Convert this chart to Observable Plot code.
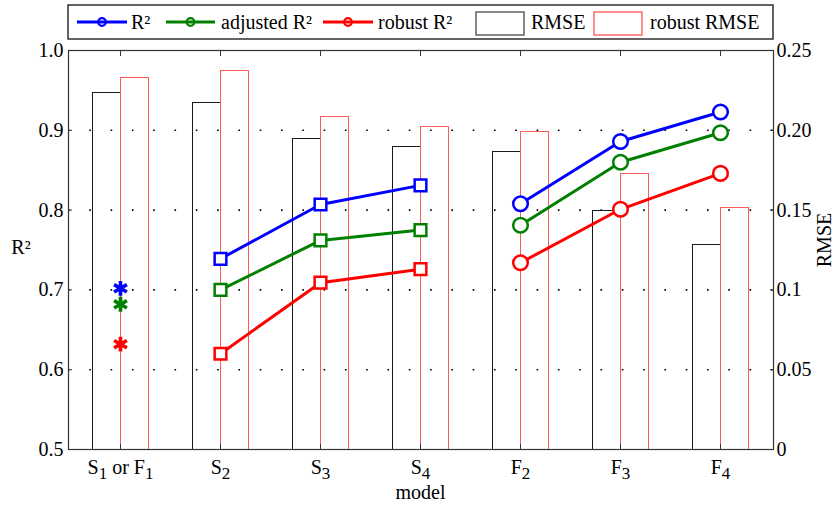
<!DOCTYPE html>
<html><head><meta charset="utf-8">
<script src="https://cdn.jsdelivr.net/npm/d3@7"></script>
<script src="https://cdn.jsdelivr.net/npm/@observablehq/plot@0.6"></script>
<style>body{margin:0;background:#fff}</style>
</head><body><div id="chart"></div>
<script>
// ---- data ----
const categories = ["S_1 or F_1", "S_2", "S_3", "S_4", "F_2", "F_3", "F_4"];
const groups     = ["single", "S", "S", "S", "F", "F", "F"];
const r2         = [0.702, 0.739, 0.807, 0.831, 0.808, 0.886, 0.923];
const adjR2      = [0.682, 0.700, 0.762, 0.775, 0.781, 0.860, 0.897];
const robustR2   = [0.632, 0.620, 0.709, 0.726, 0.734, 0.801, 0.846];
const rmse       = [0.2235, 0.2172, 0.1943, 0.1893, 0.1861, 0.1495, 0.1280];
const robustRmse = [0.2326, 0.2371, 0.2081, 0.2018, 0.1987, 0.1725, 0.1514];
const r2Ticks = [0.5, 0.6, 0.7, 0.8, 0.9, 1.0];
const gridTicks = [0.6, 0.7, 0.8, 0.9];
const rmseTicks = [0, 0.05, 0.1, 0.15, 0.2, 0.25];
const rmseTickLabels = ["0", "0.05", "0.1", "0.15", "0.20", "0.25"];

const FONT = "'Liberation Serif','Times New Roman',Times,serif";
const rows = categories.map((model, i) => ({
  model, group: groups[i], r2: r2[i], adj: adjR2[i], rob: robustR2[i],
  rmse: rmse[i], rrmse: robustRmse[i]
}));
// RMSE axis (0–0.25) is drawn on the same vertical extent as R² (0.5–1)
const toLeft = v => 0.5 + v * 2;
const lined = rows.filter(d => d.group !== "single");
const series = [
  {key: "r2", color: "#0000ff", label: "R²"},
  {key: "adj", color: "#008000", label: "adjusted R²"},
  {key: "rob", color: "#ff0000", label: "robust R²"}
];

const W = 834, H = 505, ML = 68, MR = 61, MT = 50, MB = 56;
const RED_BAR = "#ff5a5a";

const marks = [
  Plot.gridY(gridTicks, {stroke: "#000", strokeOpacity: 1, strokeWidth: 1.6, strokeDasharray: "1.6,19.7"}),
  Plot.barY(rows, {x: "model", y1: 0.5, y2: d => toLeft(d.rmse), fill: "none", stroke: "#1a1a1a", strokeWidth: 1,
    shapeRendering: "crispEdges", insetLeft: 22, insetRight: 50}),
  Plot.barY(rows, {x: "model", y1: 0.5, y2: d => toLeft(d.rrmse), fill: "none", stroke: RED_BAR, strokeWidth: 1,
    shapeRendering: "crispEdges", insetLeft: 50, insetRight: 22}),
  Plot.frame({stroke: "#333", strokeWidth: 1.2})
];
for (const s of series) {
  marks.push(
    Plot.line(lined, {x: "model", y: s.key, z: "group", stroke: s.color, strokeWidth: 3}),
    Plot.dot(rows.filter(d => d.group === "S"), {x: "model", y: s.key, symbol: "square", r: 6.6, stroke: s.color, strokeWidth: 2.5, fill: "white"}),
    Plot.dot(rows.filter(d => d.group === "F"), {x: "model", y: s.key, symbol: "circle", r: 7.3, stroke: s.color, strokeWidth: 2.5, fill: "white"}),
    Plot.dot(rows.filter(d => d.group === "single"), {x: "model", y: s.key, symbol: "asterisk", r: 7, stroke: s.color, strokeWidth: 3.6})
  );
}
marks.push(
  Plot.axisY({anchor: "left", ticks: r2Ticks, tickSize: -4, tickPadding: 9, tickFormat: d3.format(".1f"), label: null, stroke: "#333"}),
  Plot.axisY({anchor: "right", ticks: rmseTicks.map(toLeft), tickSize: -4, tickPadding: 7, label: null, stroke: "#333",
    tickFormat: d => rmseTickLabels[rmseTicks.findIndex(t => Math.abs(toLeft(t) - d) < 1e-9)]}),
  Plot.axisX({anchor: "top", tickSize: -5, tickFormat: () => "", label: null, stroke: "#333"}),
  Plot.axisX({anchor: "bottom", tickSize: -5, tickPadding: 15, label: null, stroke: "#333"})
);

const svgEl = Plot.plot({
  width: W, height: H, marginLeft: ML, marginRight: MR, marginTop: MT, marginBottom: MB,
  style: {fontFamily: FONT, fontSize: "20px", background: "white", color: "#000"},
  x: {type: "band", domain: categories, paddingInner: 0, paddingOuter: 0, range: [69, 770], round: true},
  y: {domain: [0.5, 1]},
  marks
});
document.getElementById("chart").append(svgEl);

const svg = d3.select(svgEl);
// drop the empty labels of the top (tick-only) axis
svg.selectAll("text").filter(function () { return this.textContent === ""; }).remove();
// subscripts in x tick labels
svg.selectAll('g[aria-label="x-axis tick label"] text').each(function () {
  const t = d3.select(this);
  const s = t.text();
  if (!s) return;
  t.text(null);
  const parts = s.split(/_(\d)/);
  let pendingDy = 0;
  parts.forEach((p, i) => {
    if (p === "") return;
    if (i % 2 === 1) {
      t.append("tspan").attr("dy", 5 + pendingDy).attr("font-size", 17).text(p);
      pendingDy = -5;
    } else {
      const ts = t.append("tspan").text(p);
      if (pendingDy) ts.attr("dy", pendingDy);
      pendingDy = 0;
    }
  });
});

const txt = (sel) => sel.attr("font-family", FONT).attr("font-size", 20).attr("fill", "#000");
// axis titles
txt(svg.append("text")).attr("x", 21).attr("y", (MT + H - MB) / 2).attr("text-anchor", "middle")
  .attr("dominant-baseline", "middle").text("R²");
txt(svg.append("text")).attr("transform", `translate(826,240) rotate(-90)`).attr("text-anchor", "middle")
  .attr("dominant-baseline", "middle").text("RMSE");
txt(svg.append("text")).attr("x", ML + (W - ML - MR) / 2).attr("y", 499).attr("text-anchor", "middle").text("model");

// legend
const lg = svg.append("g");
lg.append("rect").attr("x", ML).attr("y", 5).attr("width", W - ML - MR).attr("height", 34)
  .attr("fill", "white").attr("stroke", "#222").attr("stroke-width", 1.4);
const lineItems = [{x0: 77, x1: 127, tx: 131}, {x0: 166, x1: 215, tx: 221}, {x0: 323, x1: 373, tx: 378}];
series.forEach((s, i) => {
  const it = lineItems[i];
  lg.append("line").attr("x1", it.x0).attr("x2", it.x1).attr("y1", 22).attr("y2", 22)
    .attr("stroke", s.color).attr("stroke-width", 3);
  lg.append("circle").attr("cx", (it.x0 + it.x1) / 2).attr("cy", 22).attr("r", 3.8)
    .attr("fill", "none").attr("stroke", s.color).attr("stroke-width", 2.2);
  txt(lg.append("text")).attr("x", it.tx).attr("y", 29).attr("text-anchor", "start").text(s.label);
});
const boxItems = [{x: 476, color: "#555", label: "RMSE", tx: 531}, {x: 594, color: "#ff6060", label: "robust RMSE", tx: 650}];
boxItems.forEach(b => {
  lg.append("rect").attr("x", b.x).attr("y", 12).attr("width", 48).attr("height", 23)
    .attr("fill", "white").attr("stroke", b.color).attr("stroke-width", 1.4);
  txt(lg.append("text")).attr("x", b.tx).attr("y", 29).attr("text-anchor", "start").text(b.label);
});
</script>
</body></html>
